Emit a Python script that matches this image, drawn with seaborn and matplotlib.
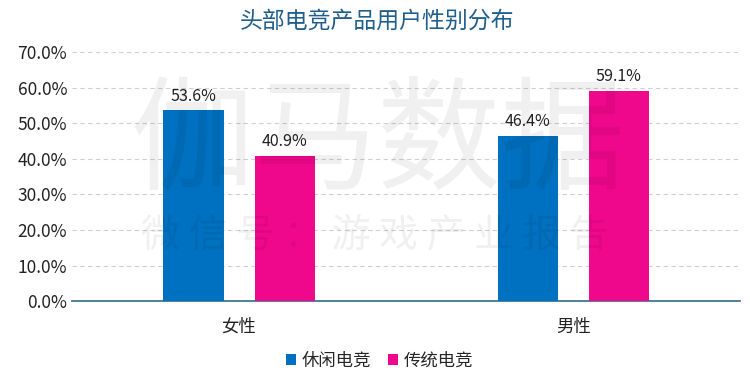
import numpy as np
import pandas as pd
import seaborn as sns
import matplotlib
matplotlib.use("Agg")
import matplotlib.pyplot as plt
from matplotlib.ticker import PercentFormatter

# 数据
genders = ["女性", "男性"]
casual = [53.6, 46.4]     # 休闲电竞
traditional = [40.9, 59.1]  # 传统电竞
series_names = ["休闲电竞", "传统电竞"]
yticks = np.arange(0, 71, 10)

df = pd.DataFrame({
    "性别": genders * 2,
    "类型": [series_names[0]] * 2 + [series_names[1]] * 2,
    "占比": casual + traditional,
})

sns.set_theme(style="white")
plt.rcParams["font.family"] = ["Noto Sans CJK SC", "DejaVu Sans"]

fig = plt.figure(figsize=(7.5, 3.86), dpi=100)
ax = fig.add_axes([0.096, 0.22, 0.891, 0.645])

sns.barplot(data=df, x="性别", y="占比", hue="类型", order=genders,
            hue_order=series_names, palette=["#0070C0", "#F0088C"],
            width=0.545, gap=0.34, saturation=1, linewidth=0, ax=ax, zorder=3)

for cont in ax.containers:
    ax.bar_label(cont, labels=[f"{v:.1f}%" for v in cont.datavalues],
                 padding=4, fontsize=11.5, color="#222222")

ax.set_ylim(0, 70)
ax.set_yticks(yticks)
ax.yaxis.set_major_formatter(PercentFormatter(decimals=1))
ax.grid(axis="y", linestyle=(0, (4, 3)), color="#d0d0d0", linewidth=0.8, zorder=0)
ax.set_axisbelow(True)
for pos in ["top", "right", "left"]:
    ax.spines[pos].set_visible(False)
ax.spines["bottom"].set_color("#2f6b8a")
ax.spines["bottom"].set_linewidth(1.2)
ax.tick_params(axis="both", length=0, labelsize=12.5, colors="#222222")
ax.tick_params(axis="x", pad=12)
ax.set_xlabel("")
ax.set_ylabel("")

# 水印
fig.text(0.504, 0.624, "伽马数据", fontsize=89, fontweight="light", color="#000000",
         alpha=0.06, ha="center", va="center", zorder=10)
fig.text(0.5, 0.391, "微 信 号 ： 游 戏 产 业 报 告", fontsize=28, fontweight="light",
         color="#000000", alpha=0.06, ha="center", va="center", zorder=10)

fig.text(0.503, 0.945, "头部电竞产品用户性别分布", fontsize=16.5, color="#1f5f8b",
         ha="center", va="center")

handles, labels = ax.get_legend_handles_labels()
ax.legend(handles, labels, loc="center", bbox_to_anchor=(0.46, -0.24), ncol=2,
          frameon=False, fontsize=12.5, handlelength=0.6, handleheight=0.6,
          handletextpad=0.3, columnspacing=1.0)

fig.savefig("out.png", dpi=100)
